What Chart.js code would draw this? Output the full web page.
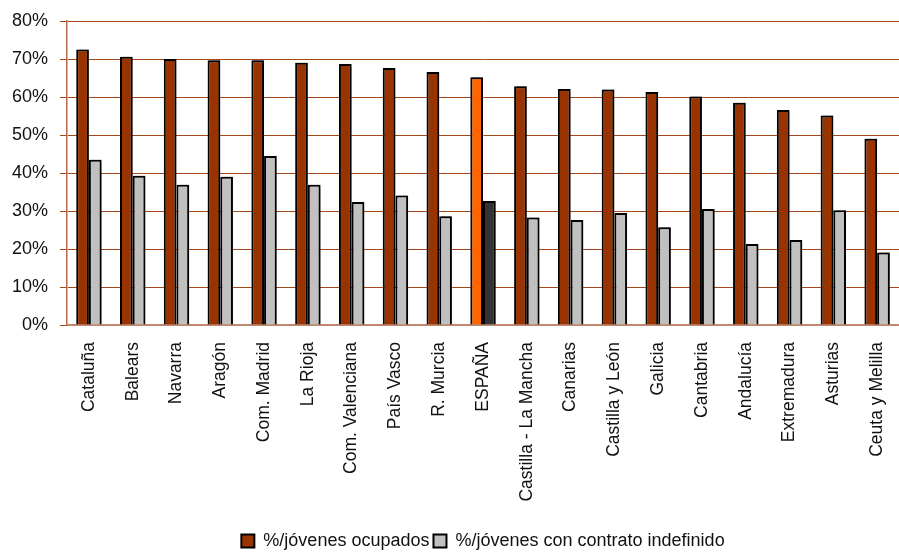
<!DOCTYPE html>
<html>
<head>
<meta charset="utf-8">
<script src="https://cdn.jsdelivr.net/npm/chart.js@4/dist/chart.umd.min.js"></script>
<style>
  html, body { margin: 0; padding: 0; background: #fff; }
  #wrap { width: 899px; height: 552px; }
</style>
</head>
<body>
<div id="wrap"><canvas id="chart-1"></canvas></div>
<script>
const regiones = ['Cataluña', 'Balears', 'Navarra', 'Aragón', 'Com. Madrid', 'La Rioja',
    'Com. Valenciana', 'País Vasco', 'R. Murcia', 'ESPAÑA', 'Castilla - La Mancha', 'Canarias',
    'Castilla y León', 'Galicia', 'Cantabria', 'Andalucía', 'Extremadura', 'Asturias', 'Ceuta y Melilla'];
const ocupados = [72.5, 70.6, 70.0, 69.7, 69.7, 69.0, 68.7, 67.6, 66.6, 65.2, 62.8, 62.1,
    62.0, 61.3, 60.1, 58.5, 56.6, 55.1, 49.0];
const indefinido = [43.5, 39.3, 36.9, 39.0, 44.5, 36.9, 32.4, 34.1, 28.6, 32.6, 28.3, 27.6,
    29.5, 25.7, 30.5, 21.3, 22.4, 30.2, 19.1];
const yTicks = [0, 10, 20, 30, 40, 50, 60, 70, 80];

const FONT = '"Liberation Sans Narrow", "Liberation Sans", Arial, sans-serif';
const highlight = 'ESPAÑA';

const chart1 = document.querySelector('#chart-1').getContext('2d');

// light drop shadow on the bars, like the original
const barShadow = {
    id: 'barShadow',
    beforeDatasetsDraw(chart) {
        const c = chart.ctx;
        c.save();
        c.shadowColor = 'rgba(0,0,0,0.35)';
        c.shadowOffsetX = 2;
        c.shadowOffsetY = -1;
        c.shadowBlur = 1;
    },
    afterDatasetsDraw(chart) {
        chart.ctx.restore();
    }
};

new Chart(chart1, {
    type: 'bar',
    data: {
        labels: regiones,
        datasets: [
            {
                label: '%/jóvenes ocupados',
                data: ocupados,
                backgroundColor: ctx => regiones[ctx.dataIndex] === highlight ? '#FF6600' : '#993300',
                borderColor: '#000',
                borderWidth: 2,
                borderSkipped: 'bottom'
            },
            {
                label: '%/jóvenes con contrato indefinido',
                data: indefinido,
                backgroundColor: ctx => regiones[ctx.dataIndex] === highlight ? '#333333' : '#C0C0C0',
                borderColor: '#000',
                borderWidth: 2,
                borderSkipped: 'bottom'
            }
        ]
    },
    options: {
        responsive: true,
        maintainAspectRatio: false,
        animation: false,
        datasets: {
            bar: { categoryPercentage: 0.58, barPercentage: 1.0 }
        },
        layout: { padding: { top: 21, right: 0, bottom: -8, left: 0 } },
        plugins: {
            legend: {
                position: 'bottom',
                fullSize: false,
                labels: {
                    boxWidth: 13,
                    boxHeight: 13,
                    padding: 4,
                    color: '#111',
                    font: { family: FONT, size: 18 }
                }
            },
            tooltip: { enabled: false }
        },
        scales: {
            x: {
                grid: { display: false, drawTicks: false },
                border: { display: true, color: '#C08870', width: 2 },
                ticks: {
                    minRotation: 90,
                    maxRotation: 90,
                    autoSkip: false,
                    padding: 17,
                    color: '#111',
                    font: { family: FONT, size: 17.5 }
                },
                afterFit(scale) {
                    scale.height = 203;
                    scale.paddingLeft = 0;
                    scale.paddingRight = 0;
                }
            },
            y: {
                min: 0,
                max: 80,
                afterBuildTicks(scale) { scale.ticks = yTicks.map(v => ({ value: v })); },
                grid: { color: '#A8461C', lineWidth: 1, tickLength: 7 },
                border: { display: true, color: '#B86A48', width: 1.5 },
                ticks: {
                    padding: 12,
                    color: '#111',
                    font: { family: FONT, size: 18 },
                    callback: v => v + '%'
                },
                afterFit(scale) {
                    scale.width = 67;
                    scale.paddingTop = 0;
                    scale.paddingBottom = 0;
                }
            }
        }
    },
    plugins: [barShadow]
});
</script>
</body>
</html>
